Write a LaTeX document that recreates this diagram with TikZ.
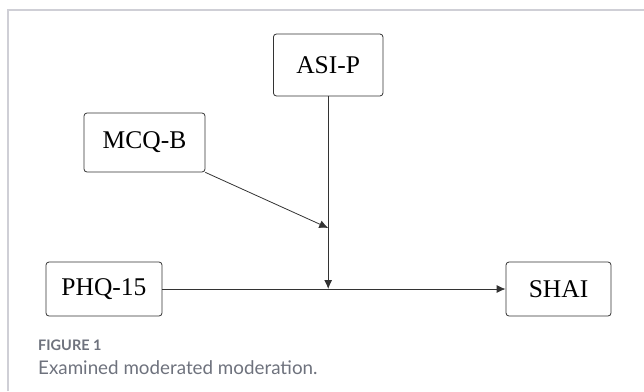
\documentclass[tikz,border=0pt]{standalone}
\usepackage{fontspec}
\setmainfont{Liberation Serif}
\newfontfamily\capfont{Lato}
\usetikzlibrary{arrows.meta}
\definecolor{framec}{HTML}{CFCFD6}
\definecolor{linec}{HTML}{333333}
\definecolor{capc}{HTML}{6E727D}

\tikzset{
  varbox/.style={draw=linec, line width=0.8pt, rounded corners=3pt, inner sep=0pt,
    font=\fontsize{25.5}{30}\selectfont},
  path/.style={draw=linec, line width=0.8pt, -{Latex[length=9pt,width=8pt]}}
}

\begin{document}
\begin{tikzpicture}[x=1pt, y=-1pt]
  \useasboundingbox (0,0) rectangle (644,391);
  \draw[framec, line width=1.3pt] (8,391) -- (8,10) -- (644,10);
  % variables
  \node[varbox, minimum width=109.5pt, minimum height=62pt] (asi) at (328.2,65) {ASI-P};
  \node[varbox, minimum width=121pt, minimum height=59pt] (mcq) at (144.5,142.5) {MCQ-B};
  \node[varbox, minimum width=116pt, minimum height=54pt] (phq) at (104,289) {PHQ-15};
  \node[varbox, minimum width=105pt, minimum height=54pt] (shai) at (558.5,289) {SHAI};
  \coordinate (j1) at (asi.south |- 0,228);
  \coordinate (j2) at (asi.south |- phq.east);
  % paths
  \draw[path] (phq.east) -- (shai.west);
  \draw[path] (asi.south) -- (j2);
  \draw[path] (mcq.south east) -- (j1);
  % caption
  \node[anchor=west, inner sep=0pt, text=capc, font=\capfont\bfseries\fontsize{14.5}{17}\selectfont] (fig) at (38,345) {FIGURE 1};
  \node[anchor=west, inner sep=0pt, text=capc, font=\capfont\fontsize{18.8}{22}\selectfont] (cap) at (38,368) {Examined moderated moderation.};
\end{tikzpicture}
\end{document}
